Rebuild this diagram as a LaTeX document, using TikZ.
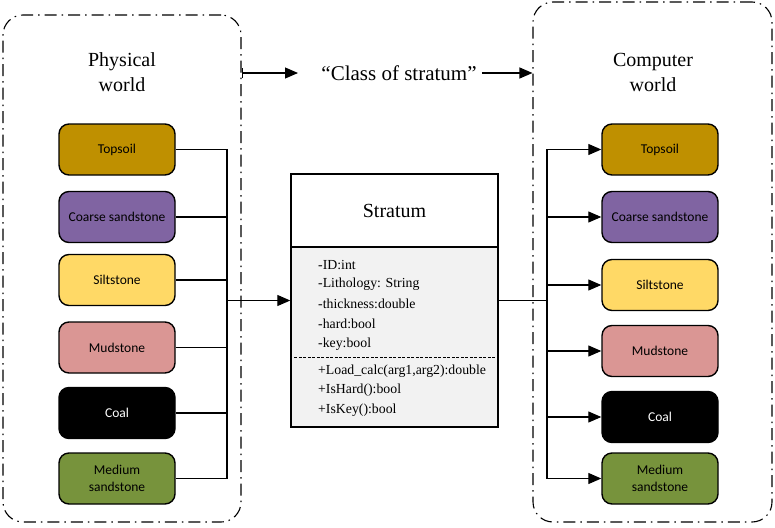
\documentclass[tikz,border=0pt]{standalone}
\usepackage{fontspec}
\setmainfont{Liberation Serif}
\newfontfamily\boxfont{Carlito}
\usetikzlibrary{arrows.meta,positioning}
\definecolor{cTop}{HTML}{BF9000}
\definecolor{cCoarse}{HTML}{8064A2}
\definecolor{cSilt}{HTML}{FFD966}
\definecolor{cMud}{HTML}{DA9694}
\definecolor{cMed}{HTML}{77933C}
\definecolor{cBody}{HTML}{F2F2F2}
\tikzset{
  frame/.style={draw, line width=1.1pt, rounded corners=20pt,
    dash pattern=on 12pt off 5pt on 1.5pt off 5pt, inner sep=0pt},
  rock/.style={draw, line width=1.4pt, rounded corners=10pt, minimum width=116pt,
    minimum height=51pt, inner sep=1pt, align=center, font=\boxfont\fontsize{13.5}{16.5}\selectfont},
  conn/.style={line width=1.1pt},
  arr/.style={line width=1.1pt, -{Triangle[length=13pt,width=11pt]}},
  title/.style={align=center, font=\fontsize{20}{25}\selectfont},
  attr/.style={anchor=west, inner sep=0pt, font=\fontsize{13.8}{15}\selectfont},
}
\begin{document}
\begin{tikzpicture}[x=1pt,y=-1pt]
\useasboundingbox (0,0) rectangle (775,527);
% frames
\node[frame, minimum width=238pt, minimum height=507pt] (PF) at (122,268.5) {};
\node[frame, minimum width=239pt, minimum height=520pt] (CF) at (652.5,262) {};
\node[title] (PT) at (122,72) {Physical\\world};
\node[title] (CT) at (653,72) {Computer\\world};
% top arrow
\node[inner sep=0pt, font=\fontsize{21}{25}\selectfont] (cls) at (399,73) {“Class of stratum”};
\coordinate (fl) at (PF.east |- cls);
\coordinate (fr) at (CF.west |- cls);
\coordinate (fm) at (298,73);
\draw[line width=1.1pt, {Bar[width=10pt]}-{Triangle[length=13pt,width=11pt]}] (fl) -- (fm);
\draw[arr] ([xshift=5pt]cls.east) -- (fr);
% left rocks
\node[rock, fill=cTop] (L1) at (117,149.5) {Topsoil};
\node[rock, fill=cCoarse] (L2) at (117,217) {Coarse sandstone};
\node[rock, fill=cSilt] (L3) at (117,280) {Siltstone};
\node[rock, fill=cMud] (L4) at (117,347.5) {Mudstone};
\node[rock, fill=black, text=white] (L5) at (117,413) {Coal};
\node[rock, fill=cMed] (L6) at (117,478.5) {Medium\\sandstone};
% right rocks
\node[rock, fill=cTop] (R1) at (660,149.5) {Topsoil};
\node[rock, fill=cCoarse] (R2) at (660,217) {Coarse sandstone};
\node[rock, fill=cSilt] (R3) at (660,285) {Siltstone};
\node[rock, fill=cMud] (R4) at (660,351) {Mudstone};
\node[rock, fill=black, text=white] (R5) at (660,417) {Coal};
\node[rock, fill=cMed] (R6) at (660,478.5) {Medium\\sandstone};
% stratum class box
\node[draw, line width=1.4pt, fill=cBody, minimum width=207pt, minimum height=253pt, inner sep=0pt] (S) at (394.5,300.5) {};
\node[draw, line width=1.4pt, fill=white, minimum width=207pt, minimum height=73pt, inner sep=0pt,
  font=\fontsize{20}{24}\selectfont] (SH) at (394.5,210.5) {Stratum};
\coordinate (dl) at ([xshift=4pt]S.west |- 0,357);
\coordinate (dr) at ([xshift=-4pt]S.east |- 0,357);
\draw[line width=1pt, dash pattern=on 3pt off 1.5pt] (dl) -- (dr);
\node[attr] (a1) at (318,265) {-ID:int};
\node[attr] (a2) at (318,284.5) {-Lithology: String};
\node[attr] (a3) at (318,304) {-thickness:double};
\node[attr] (a4) at (318,324) {-hard:bool};
\node[attr] (a5) at (318,344) {-key:bool};
\node[attr] (m1) at (318,371) {+Load\_calc(arg1,arg2):double};
\node[attr] (m2) at (318,390.5) {+IsHard():bool};
\node[attr] (m3) at (318,410) {+IsKey():bool};
% left connectors
\coordinate (lb) at (227,300.5);
\foreach \i in {1,...,6} { \draw[conn] (L\i.east) -| (lb); }
\draw[arr] (lb) -- (S.west);
% right connectors
\coordinate (rb) at (547,300.5);
\draw[conn] (S.east) -- (rb);
\foreach \i in {1,...,6} { \draw[arr] (rb) |- (R\i.west); }
\end{tikzpicture}
\end{document}
